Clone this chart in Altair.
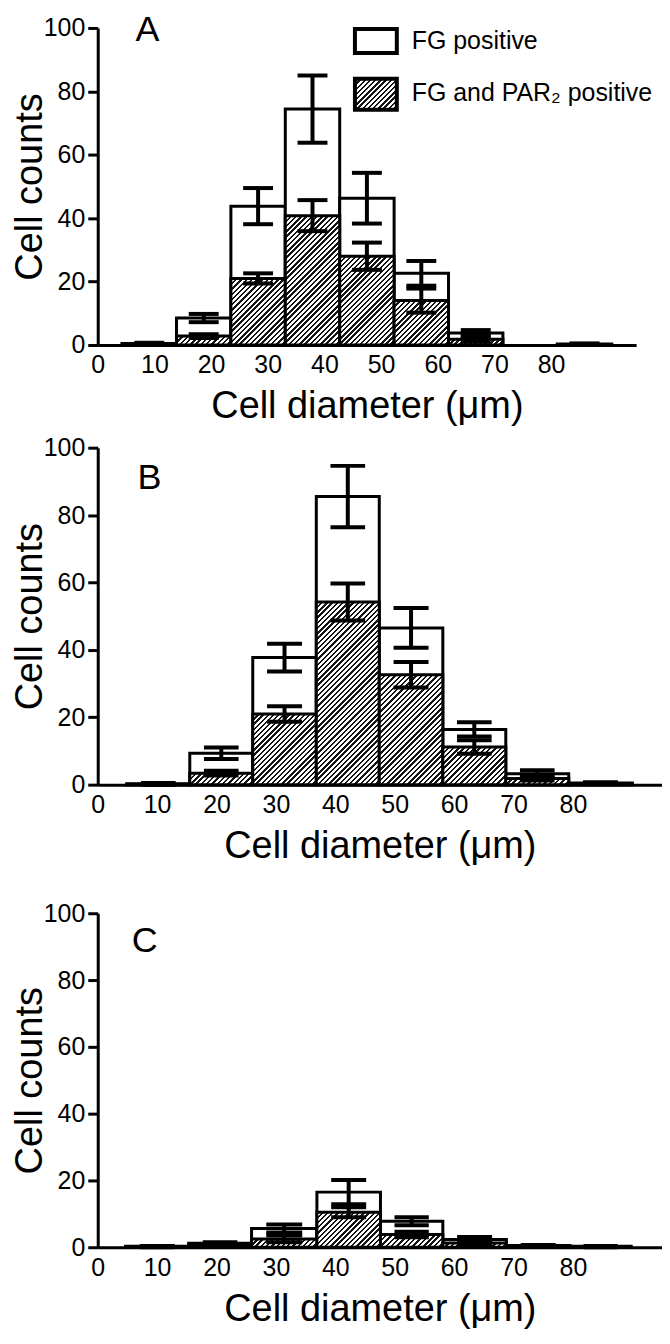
import altair as alt
import pandas as pd

FONT = "Liberation Sans"

# ---------------- data ----------------
# Panel A : bin edges (µm), FG positive mean/SEM, FG and PAR2 positive mean/SEM
A_LO = [4.3, 13.9, 23.5, 33.1, 42.7, 52.3, 61.9, 71.5, 81.1]
A_HI = [13.9, 23.5, 33.1, 42.7, 52.3, 61.9, 71.5, 81.1, 90.7]
A_FG = [0.5, 8.5, 43.8, 74.4, 46.3, 22.6, 3.8, None, 0.3]
A_FG_ERR = [0.2, 1.3, 5.7, 10.6, 8.0, 3.9, 0.9, None, 0.2]
A_PAR = [0.2, 2.8, 21.0, 40.8, 28.0, 14.0, 1.8, None, 0.1]
A_PAR_ERR = [0.1, 0.6, 1.6, 4.9, 4.3, 3.8, 0.8, None, 0.1]

# Panel B
B_LO = [4.9, 15.5, 26.1, 36.8, 47.4, 58.1, 68.7, 79.3]
B_HI = [15.5, 26.1, 36.8, 47.4, 58.1, 68.7, 79.3, 90.0]
B_FG = [0.3, 9.3, 37.7, 85.5, 46.5, 16.4, 3.2, 0.5]
B_FG_ERR = [0.2, 1.7, 4.1, 9.1, 5.9, 2.1, 1.1, 0.2]
B_PAR = [0.1, 3.4, 21.0, 54.2, 32.6, 11.2, 1.8, 0.2]
B_PAR_ERR = [0.1, 0.7, 2.3, 5.5, 3.8, 2.0, 0.6, 0.1]

# Panel C
C_LO = [4.7, 15.3, 25.9, 36.9, 47.6, 58.1, 68.8, 79.5]
C_HI = [15.3, 25.9, 36.9, 47.6, 58.1, 68.8, 79.5, 89.8]
C_FG = [0.3, 1.2, 5.6, 16.5, 7.8, 2.3, 0.5, 0.3]
C_FG_ERR = [0.1, 0.3, 1.2, 3.6, 1.2, 0.8, 0.2, 0.1]
C_PAR = [0.1, 0.5, 2.5, 10.5, 3.8, 1.3, 0.3, 0.1]
C_PAR_ERR = [0.1, 0.2, 1.0, 1.5, 0.8, 0.4, 0.1, 0.1]

X_TICKS = [0, 10, 20, 30, 40, 50, 60, 70, 80]
Y_TICKS = [0, 20, 40, 60, 80, 100]
X_TITLE = "Cell diameter (μm)"
Y_TITLE = "Cell counts"
LEGEND_LABELS = ["FG positive", "FG and PAR₂ positive"]

X_DOMAIN = [0, 95]
Y_DOMAIN = [0, 100]
CAP = 0.275  # half cap width as fraction of bin width


def hatch(w, h, period=5.2, frac=0.45):
    """Diagonal '////' hatch as a hard-stop linear gradient for a w x h px box."""
    w = max(float(w), 1.0)
    h = max(float(h), 1.0)
    a, b = 1.0 / h, 1.0 / w
    s = (a + b) / (a * a + b * b)
    n = max(1, int(round((w + h) / period)))
    stops = []
    for k in range(n):
        o0 = k / n
        o1 = (k + frac) / n
        o2 = (k + 1) / n
        stops += [
            {"offset": round(o0, 5), "color": "#151515"},
            {"offset": round(o1, 5), "color": "#151515"},
            {"offset": round(o1, 5), "color": "#ffffff"},
            {"offset": round(o2, 5), "color": "#ffffff"},
        ]
    return {"gradient": "linear", "x1": 0, "y1": 0,
            "x2": round(s * a, 5), "y2": round(s * b, 5), "stops": stops}


def panel(lo, hi, fg, fge, par, pare, W, H, letter, lx, ly, legend=False):
    rows = []
    for i in range(len(lo)):
        if fg[i] is None:
            continue
        mid = (lo[i] + hi[i]) / 2
        half = CAP * (hi[i] - lo[i])
        rows.append(dict(lo=lo[i], hi=hi[i], mid=mid, clo=mid - half, chi=mid + half,
                         zero=0.0,
                         fg=fg[i], fg_lo=max(fg[i] - fge[i], 0), fg_hi=fg[i] + fge[i],
                         par=par[i], par_lo=max(par[i] - pare[i], 0), par_hi=par[i] + pare[i]))
    df = pd.DataFrame(rows)

    xs = alt.Scale(domain=X_DOMAIN, nice=False, zero=False)
    ys = alt.Scale(domain=Y_DOMAIN, nice=False)
    xax = alt.Axis(values=X_TICKS, ticks=False, grid=False, domainColor="black",
                   domainWidth=3, labelFont=FONT, labelFontSize=25, labelColor="black",
                   labelPadding=8, labelFlush=False, labelOverlap=False,
                   title=X_TITLE, titleFont=FONT, titleFontSize=38,
                   titleFontWeight="normal", titleColor="black", titlePadding=10)
    yax = alt.Axis(values=Y_TICKS, grid=False, domainColor="black", domainWidth=3,
                   tickColor="black", tickWidth=3, tickSize=10,
                   labelFont=FONT, labelFontSize=25, labelColor="black",
                   labelPadding=3, labelFlush=False,
                   title=Y_TITLE, titleFont=FONT, titleFontSize=38,
                   titleFontWeight="normal", titleColor="black", titlePadding=-6)

    def X(f):
        return alt.X(f, type="quantitative", scale=xs, axis=xax)

    def Y(f):
        return alt.Y(f, type="quantitative", scale=ys, axis=yax)

    layers = []
    base = alt.Chart(df)
    layers.append(base.mark_rect(fill="white", stroke="black", strokeWidth=3).encode(
        x=X("lo"), x2="hi", y=Y("fg"), y2="zero"))
    for i in range(len(df)):
        r = df.iloc[i]
        g = hatch((r["hi"] - r["lo"]) * W / (X_DOMAIN[1] - X_DOMAIN[0]),
                  r["par"] * H / (Y_DOMAIN[1] - Y_DOMAIN[0]))
        layers.append(alt.Chart(df.iloc[[i]]).mark_rect(
            fill=g, stroke="black", strokeWidth=3).encode(
            x=X("lo"), x2="hi", y=Y("par"), y2="zero"))
    for lo_f, hi_f in (("fg_lo", "fg_hi"), ("par_lo", "par_hi")):
        layers.append(base.mark_rule(color="black", strokeWidth=4).encode(
            x=X("mid"), y=Y(lo_f), y2=hi_f))
        for f in (lo_f, hi_f):
            layers.append(base.mark_rule(color="black", strokeWidth=4).encode(
                x=X("clo"), x2="chi", y=Y(f)))

    one = pd.DataFrame({"k": [0]})
    layers.append(alt.Chart(one).mark_text(
        text=letter, font=FONT, fontSize=36, align="center", baseline="middle",
        color="black").encode(x=alt.value(lx), y=alt.value(ly)))

    if legend:
        layers.append(alt.Chart(one).mark_rect(
            fill="white", stroke="black", strokeWidth=4).encode(
            x=alt.value(258), x2=alt.value(300), y=alt.value(1), y2=alt.value(25)))
        layers.append(alt.Chart(one).mark_rect(
            fill=hatch(42, 31), stroke="black", strokeWidth=4).encode(
            x=alt.value(258), x2=alt.value(300), y=alt.value(51), y2=alt.value(82)))
        layers.append(alt.Chart(one).mark_text(
            text=LEGEND_LABELS[0], font=FONT, fontSize=25, align="left",
            baseline="middle", color="black").encode(x=alt.value(315), y=alt.value(13)))
        layers.append(alt.Chart(one).mark_text(
            text=LEGEND_LABELS[1], font=FONT, fontSize=25, align="left",
            baseline="middle", color="black").encode(x=alt.value(315), y=alt.value(65)))

    return alt.layer(*layers).properties(width=W, height=H)


pA = panel(A_LO, A_HI, A_FG, A_FG_ERR, A_PAR, A_PAR_ERR, 540, 318, "A", 50, 2, legend=True)
pB = panel(B_LO, B_HI, B_FG, B_FG_ERR, B_PAR, B_PAR_ERR, 566, 338, "B", 52, 30)
pC = panel(C_LO, C_HI, C_FG, C_FG_ERR, C_PAR, C_PAR_ERR, 566, 335, "C", 47, 28)

chart = alt.vconcat(
    alt.vconcat(pA, pB, spacing=10),
    pC, spacing=36,
).properties(
    padding={"left": 3, "top": 2, "right": 0, "bottom": 0}
).configure(font=FONT).configure_view(stroke="transparent", strokeWidth=0)

chart.save("out.html", embed_options={"renderer": "svg", "actions": False})
